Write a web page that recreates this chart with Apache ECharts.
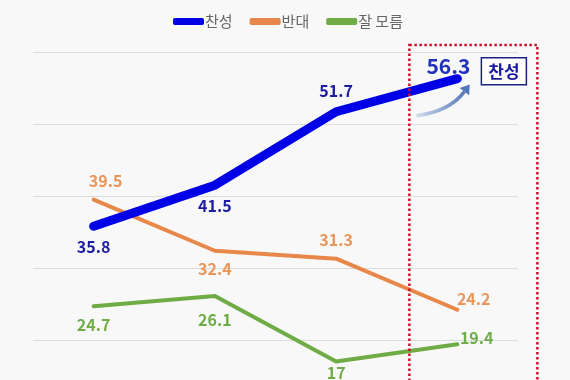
<!DOCTYPE html>
<html><head><meta charset="utf-8">
<script src="https://cdn.jsdelivr.net/npm/echarts@6/dist/echarts.min.js"></script>
<style>html,body{margin:0;padding:0;background:#f8f8f8;}#c{width:570px;height:380px;}</style>
</head><body><div id="c"></div>
<script>
const categories = ['1차', '2차', '3차', '4차'];
const seriesNames = ['찬성', '반대', '잘 모름'];
const favor = [35.8, 41.5, 51.7, 56.3];
const oppose = [39.5, 32.4, 31.3, 24.2];
const unsure = [24.7, 26.1, 17, 19.4];
const yTicks = [10, 20, 30, 40, 50, 60];

const FONT = '"Noto Sans CJK KR", "Noto Sans", sans-serif';
const favorLabelStyle = [
  {position: 'bottom', distance: 11},
  {position: 'bottom', distance: 11},
  {position: 'top', distance: 11},
  {position: 'top', distance: 0, offset: [-9, 0], fontSize: 21, color: '#2233bb'}
];
const opposeLabelStyle = [
  {position: 'top', distance: 9, offset: [12, 0]},
  {position: 'bottom', distance: 9},
  {position: 'top', distance: 9},
  {position: 'right', distance: -2, offset: [0, -11]}
];
const unsureLabelStyle = [
  {position: 'bottom', distance: 9},
  {position: 'bottom', distance: 14},
  {position: 'bottom', distance: 2},
  {position: 'right', distance: 1, offset: [0, -6]}
];
function mk(vals, styles) {
  return vals.map((v, i) => ({value: v, label: styles[i]}));
}
const colors = ['#0000e6', '#e8874a', '#6fac46'];

const chart = echarts.init(document.getElementById('c'));
chart.setOption({
  backgroundColor: '#f8f8f8',
  animation: false,
  legend: {
    top: 9, left: 168, itemWidth: 31, itemHeight: 7, itemGap: 17,
    icon: 'roundRect',
    textStyle: {fontSize: 15, color: '#666', fontFamily: FONT, padding: [0, 0, 0, -4]},
    data: seriesNames
  },
  grid: {left: 33, right: 52, top: 52, height: 360, outerBoundsMode: 'none', containLabel: false},
  xAxis: {type: 'category', data: categories, boundaryGap: true, show: false},
  yAxis: {
    type: 'value', min: yTicks[0], max: yTicks[yTicks.length - 1], interval: 10,
    axisLabel: {show: false}, axisLine: {show: false}, axisTick: {show: false},
    splitLine: {lineStyle: {color: '#dcdcdc', width: 1}}
  },
  series: [
    {name: seriesNames[0], type: 'line', data: mk(favor, favorLabelStyle), symbol: 'circle', symbolSize: 4, z: 5,
     itemStyle: {color: colors[0]}, lineStyle: {width: 9, color: colors[0], cap: 'round', join: 'round'},
     label: {show: true, fontSize: 16, fontWeight: 'bold', color: '#1c1ca0', fontFamily: FONT}},
    {name: seriesNames[1], type: 'line', data: mk(oppose, opposeLabelStyle), symbol: 'circle', symbolSize: 3, z: 4,
     itemStyle: {color: colors[1]}, lineStyle: {width: 4, color: colors[1], cap: 'round', join: 'round'},
     label: {show: true, fontSize: 16, fontWeight: 'bold', color: '#e8955a', fontFamily: FONT}},
    {name: seriesNames[2], type: 'line', data: mk(unsure, unsureLabelStyle), symbol: 'circle', symbolSize: 3, z: 3,
     itemStyle: {color: colors[2]}, lineStyle: {width: 4, color: colors[2], cap: 'round', join: 'round'},
     label: {show: true, fontSize: 16, fontWeight: 'bold', color: '#6fac46', fontFamily: FONT}}
  ]
});

// annotations anchored to the last favor point
const p = chart.convertToPixel({seriesIndex: 0}, [categories.length - 1, favor[favor.length - 1]]);
const px = p[0], py = p[1];
const ex = px + 7, ey = py + 13, sx = px - 41, sy = py + 37, cx = px - 8, cy = py + 33;
const dx = ex - cx, dy = ey - cy, L = Math.hypot(dx, dy), ux = dx / L, uy = dy / L;
chart.setOption({
  graphic: [
    {type: 'rect', z: 10, shape: {x: px - 48, y: 45, width: 128, height: 360},
     style: {fill: 'none', stroke: '#c8102a', lineWidth: 2.5, lineDash: [2.5, 2.5]}},
    {type: 'bezierCurve', z: 10,
     shape: {x1: sx, y1: sy, x2: ex, y2: ey, cpx1: cx, cpy1: cy},
     style: {fill: 'none', lineWidth: 3.5,
       stroke: new echarts.graphic.LinearGradient(0, 0, 1, 0, [{offset: 0, color: '#d7e0ef'}, {offset: 1, color: '#5277b8'}])}},
    {type: 'polygon', z: 10,
     shape: {points: [[ex + 9 * ux, ey + 9 * uy], [ex + 6 * uy, ey - 6 * ux], [ex - 6 * uy, ey + 6 * ux]]},
     style: {fill: '#5277b8'}},
    {type: 'rect', z: 10, shape: {x: px + 24, y: py - 21, width: 45, height: 27},
     style: {fill: '#ffffff', stroke: '#1a237e', lineWidth: 1.5}},
    {type: 'text', z: 11, x: px + 46.5, y: py - 7.5,
     style: {text: '찬성', fill: '#1a1aa0', font: 'bold 17px ' + FONT, align: 'center', verticalAlign: 'middle'}}
  ]
});
</script></body></html>
